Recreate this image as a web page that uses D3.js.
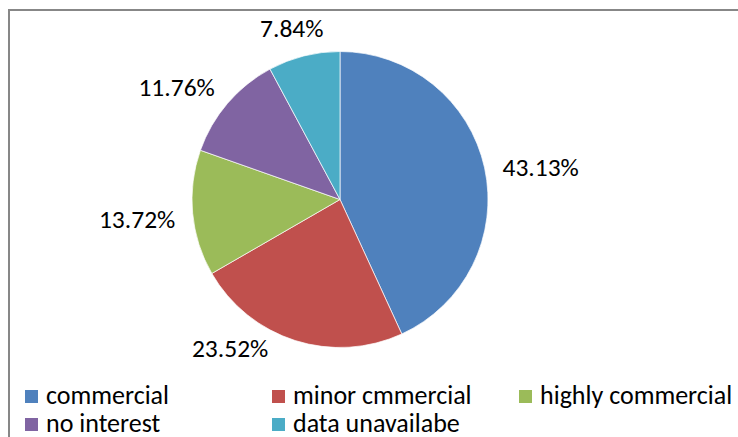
<!DOCTYPE html>
<html>
<head>
<meta charset="utf-8">
<script src="https://cdn.jsdelivr.net/npm/d3@7"></script>
<style>
  html, body { margin: 0; padding: 0; background: #fff; }
  svg { display: block; }
  text { font-family: Carlito, Calibri, Lato, "Open Sans", sans-serif; fill: #000; }
</style>
</head>
<body>
<svg id="chart" width="738" height="437"></svg>
<script>
// ---- data ----
const categories = ["commercial", "minor cmmercial", "highly commercial", "no interest", "data unavailabe"];
const values = [43.13, 23.52, 13.72, 11.76, 7.84];
const valueLabels = ["43.13%", "23.52%", "13.72%", "11.76%", "7.84%"];
const colors = ["#4F81BD", "#C0504D", "#9BBB59", "#8064A2", "#4BACC6"];

// ---- layout ----
const W = 738, H = 437;
const cx = 340, cy = 199.5, radius = 148;
const labelFont = 25.5, legendFont = 26;

const svg = d3.select("#chart");

// chart frame (right and bottom edges fall outside the view)
svg.append("rect")
  .attr("x", 9).attr("y", 10)
  .attr("width", W + 20).attr("height", H + 20)
  .attr("fill", "none").attr("stroke", "#878787").attr("stroke-width", 2);

const pie = d3.pie().sort(null).value(d => d)(values);
const arc = d3.arc().innerRadius(0).outerRadius(radius);

const g = svg.append("g").attr("transform", `translate(${cx},${cy})`);
g.selectAll("path.slice").data(pie).join("path")
  .attr("class", "slice")
  .attr("d", arc)
  .attr("fill", (d, i) => colors[i])
  .attr("stroke", "#ffffff").attr("stroke-width", 0.7);

// data labels: placed just outside the slice, box edge facing the pie
const labelR = radius + 18;
const angleNudge = [0.03, 0.26, -0.02, -0.04, 0]; // best-fit shift (radians)
const radialExtra = [0, 0, 0, 4, 0];
g.selectAll("text.lbl").data(pie).join("text")
  .attr("class", "lbl")
  .attr("font-size", labelFont)
  .attr("text-anchor", "middle")
  .attr("dominant-baseline", "central")
  .text((d, i) => valueLabels[i])
  .each(function(d, i) {
    const a = (d.startAngle + d.endAngle) / 2 + angleNudge[i];
    const s = Math.sin(a), c = Math.cos(a);
    const hw = this.getComputedTextLength() / 2;
    const hh = labelFont * 0.4;
    const r = labelR + radialExtra[i];
    const x = s * (r + hw);
    const y = -c * (r + hh);
    d3.select(this).attr("x", x).attr("y", y);
  });

// legend
const legCols = [25, 272, 519];
const legRows = [390, 418];
const legend = svg.append("g");
categories.forEach((name, i) => {
  const col = i % 3, row = Math.floor(i / 3);
  const x = legCols[col], y = legRows[row];
  legend.append("rect")
    .attr("x", x).attr("y", y).attr("width", 13).attr("height", 13)
    .attr("fill", colors[i]);
  legend.append("text")
    .attr("x", x + 21).attr("y", y + 13.5)
    .attr("font-size", legendFont)
    .text(name);
});
</script>
</body>
</html>
